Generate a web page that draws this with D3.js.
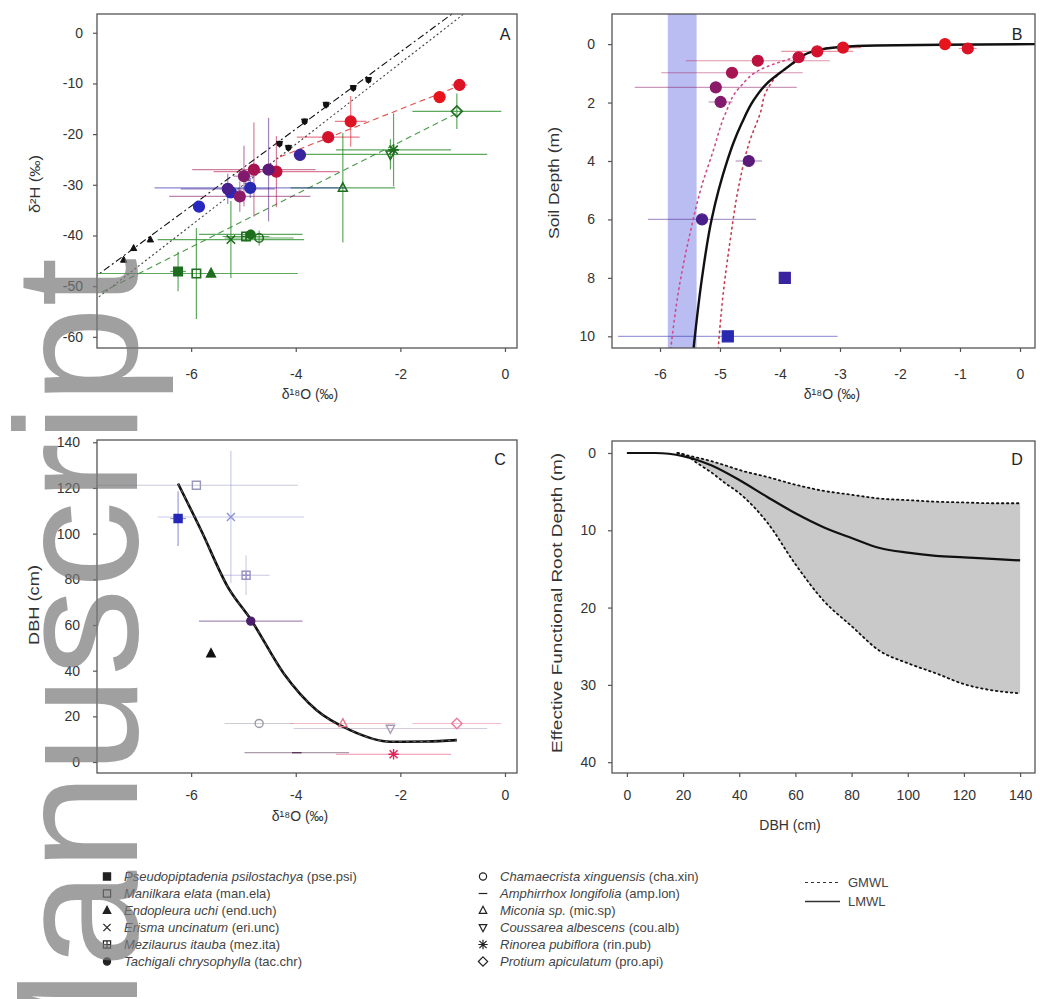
<!DOCTYPE html>
<html>
<head>
<meta charset="utf-8">
<script src="https://cdn.jsdelivr.net/npm/d3@7"></script>
<style>
  body { margin: 0; background: #fff; }
  svg { display: block; font-family: "Liberation Sans", Arial, sans-serif; }
</style>
</head>
<body>
<svg id="fig" width="1040" height="999"></svg>
<script>
// ---------------- data ----------------
// species sampled for xylem water
const speciesCodes = ["pse.psi","man.ela","end.uch","eri.unc","mez.ita","tac.chr",
                      "cha.xin","amp.lon","mic.sp","cou.alb","rin.pub","pro.api"];
const speciesNames = ["Pseudopiptadenia psilostachya","Manilkara elata","Endopleura uchi",
                      "Erisma uncinatum","Mezilaurus itauba","Tachigali chrysophylla",
                      "Chamaecrista xinguensis","Amphirrhox longifolia","Miconia sp.",
                      "Coussarea albescens","Rinorea pubiflora","Protium apiculatum"];
const xylemD18O = [-6.25,-5.90,-5.62,-5.24,-4.95,-4.86,-4.70,-3.98,-3.10,-2.19,-2.13,-0.92];
const xylemD2H  = [-47.1,-47.5,-47.5,-40.8,-40.2,-39.8,-40.5,null,-30.6,-24.0,-23.1,-15.5];
const xylemSdO  = [0.15,1.94,0,1.4,0.45,0.99,0.66,1.0,1.0,1.85,1.1,0.85];
const xylemSdH  = [3.9,9.0,0,7.6,1.0,1.0,1.5,0,10.8,3.0,7.2,3.5];
const treeDbh   = [106.6,121.2,47.5,107.3,81.8,61.7,16.9,4.1,16.9,14.7,3.4,16.9];
const treeDbhSd = [12,0,0,29,8.7,0,0,0,0,0,0,0];

// soil water profile
const soilDepth = [0.00,0.15,0.12,0.25,0.45,0.57,0.98,1.48,1.98,4.0,6.0,8.0,10.0];
const soilD18O  = [-1.25,-0.87,-2.95,-3.38,-3.69,-4.37,-4.80,-5.07,-4.99,-4.52,-5.30,-3.92,-4.87];
const soilD2H   = [-12.7,-10.3,-17.5,-20.6,null,-27.4,-27.0,-32.3,-28.3,-27.0,-30.8,-24.1,-30.6];
const soilSdO   = [0.12,0.15,0.3,0.6,0.1,1.2,1.18,1.35,0.2,0.22,0.9,0.1,1.83];
const soilSdH   = [0.8,1.0,5.0,1.2,0,7.0,9.3,3.0,6.0,10.2,3.0,0.6,2.0];

// precipitation and groundwater
const rainSeason = ["wet","wet","wet","dry","dry","dry","dry","dry","dry"];
const rainD18O  = [-7.29,-7.10,-6.78,-4.31,-4.14,-3.83,-3.42,-2.90,-2.61];
const rainD2H   = [-44.8,-42.5,-40.8,-21.9,-22.7,-17.5,-14.2,-10.9,-9.3];
const gwD18O    = [-5.85,-5.24];
const gwD2H     = [-34.3,-31.5];
const gwBandD18O = [-5.87,-5.39];

// water lines in dual-isotope space: slope, intercept and drawn range
const lineNames   = ["LMWL","GMWL","soil","xylem"];
const lineSlope   = [7.6, 8.0, 4.09, 5.2];
const lineInterc  = [11.4, 10.0, -6.9, -11.1];
const lineFrom    = [-7.9, -7.9, -4.3, -7.7];
const lineTo      = [0.3, 0.3, -0.83, -0.85];

// fitted soil profile (depth m vs d18O)
const fitDepth = [0,0.02,0.05,0.1,0.2,0.35,0.55,0.89,1.35,1.92,2.72,3.4,4.0,6.0,8.0,10.4];
const fitD18O  = [0.25,-1.3,-2.4,-3.0,-3.35,-3.58,-3.72,-3.94,-4.22,-4.44,-4.64,-4.78,-4.88,-5.14,-5.30,-5.44];
const fitLoDepth = [0.45,0.8,1.5,2.43,3.63,4.89,6.48,8.19,10.4];
const fitLoD18O  = [-3.75,-4.25,-4.68,-4.92,-5.11,-5.31,-5.50,-5.67,-5.82];
const fitHiDepth = [0.45,0.9,1.58,2.37,3.29,4.89,6.71,8.42,10.4];
const fitHiD18O  = [-3.6,-3.95,-4.22,-4.33,-4.50,-4.69,-4.83,-4.94,-5.03];

// DBH vs xylem d18O fit
const dbhFitD18O = [-6.25,-5.81,-5.30,-4.85,-4.23,-3.60,-2.96,-2.19,-1.5,-0.92];
const dbhFitDbh  = [121.9,101.5,76.7,62.1,38.8,22.7,14.0,8.9,9.0,9.6];

// effective functional root depth vs DBH
const rootDbh  = [0,10,15,20,25,30,40,50,60,70,80,90,100,110,120,130,140];
const rootMid  = [0,0,0.1,0.4,0.9,1.6,3.5,5.7,7.8,9.6,11.0,12.3,12.9,13.3,13.5,13.7,13.9];
const bandDbh  = [18,21,25,30,35,40,50,60,70,80,90,100,110,120,130,140];
const bandUp   = [0,0.26,0.6,1.05,1.6,2.2,3.1,4.1,4.9,5.4,5.9,6.1,6.3,6.4,6.5,6.5];
const bandLow  = [0,0.3,1.3,2.5,3.9,5.2,9.0,14.4,19.1,22.4,25.6,27.2,28.5,29.9,30.7,31.1];

// axis ticks
const ticksD18O_A = [-6,-4,-2,0];
const ticksD2H    = [0,-10,-20,-30,-40,-50,-60];
const ticksD18O_B = [-6,-5,-4,-3,-2,-1,0];
const ticksDepth  = [0,2,4,6,8,10];
const ticksDbhY   = [0,20,40,60,80,100,120,140];
const ticksDbhX   = [0,20,40,60,80,100,120,140];
const ticksRoot   = [0,10,20,30,40];

// ---------------- styles ----------------
const speciesShape = {"pse.psi":"square","man.ela":"squareOpen","end.uch":"triangle","eri.unc":"x",
  "mez.ita":"squarePlus","tac.chr":"circle","cha.xin":"circleOpen","amp.lon":"dash",
  "mic.sp":"triangleOpen","cou.alb":"triangleDownOpen","rin.pub":"asterisk","pro.api":"diamondOpen"};
const speciesColorC = {"pse.psi":"#2626b8","man.ela":"#9898bc","end.uch":"#111111","eri.unc":"#8f93d8",
  "mez.ita":"#9a90c8","tac.chr":"#4b1d6b","cha.xin":"#9a9aa8","amp.lon":"#5a3a5a","mic.sp":"#e07a8a",
  "cou.alb":"#a898b8","rin.pub":"#e0245a","pro.api":"#f07a98"};
const depthColor = d3.scaleLinear().domain([0,0.5,1.5,4,10])
  .range(["#e8141c","#c0103c","#8a1a6a","#5a1a7a","#2828b0"]);
const xylemGreen = "#2a8c2a";
const axisGray = "#555";
const textGray = "#333";

const svg = d3.select("#fig");
svg.append("rect").attr("width",1040).attr("height",999).attr("fill","#fff");

function symbolPath(type, r) {
  switch (type) {
    case "square": case "squareOpen":
      return `M${-r},${-r}h${2*r}v${2*r}h${-2*r}Z`;
    case "squarePlus":
      return `M${-r},${-r}h${2*r}v${2*r}h${-2*r}Z M${-r},0h${2*r} M0,${-r}v${2*r}`;
    case "triangle": case "triangleOpen":
      return `M0,${-r*1.2}L${r*1.05},${r*0.8}L${-r*1.05},${r*0.8}Z`;
    case "triangleDownOpen":
      return `M0,${r*1.2}L${r*1.05},${-r*0.8}L${-r*1.05},${-r*0.8}Z`;
    case "x":
      return `M${-r},${-r}L${r},${r}M${-r},${r}L${r},${-r}`;
    case "dash":
      return `M${-r*1.2},0H${r*1.2}`;
    case "asterisk":
      return `M${-r},${-r}L${r},${r}M${-r},${r}L${r},${-r}M${-r*1.3},0H${r*1.3}M0,${-r*1.3}V${r*1.3}`;
    case "diamondOpen":
      return `M0,${-r*1.3}L${r*1.3},0L0,${r*1.3}L${-r*1.3},0Z`;
    case "circle": case "circleOpen":
    default:
      return `M${r},0A${r},${r} 0 1,1 ${-r},0A${r},${r} 0 1,1 ${r},0Z`;
  }
}
const filledShapes = new Set(["square","triangle","circle"]);
function drawSymbol(g, type, cx, cy, r, color, sw) {
  const filled = filledShapes.has(type);
  g.append("path").attr("d", symbolPath(type, r))
    .attr("transform", `translate(${cx},${cy})`)
    .attr("fill", filled ? color : "none")
    .attr("stroke", color).attr("stroke-width", sw || 1.2);
}

function panelFrame(p, id) {
  const g = svg.append("g");
  svg.append("clipPath").attr("id", id).append("rect")
    .attr("x", p.x0).attr("y", p.y0).attr("width", p.x1 - p.x0).attr("height", p.y1 - p.y0);
  const plot = g.append("g").attr("clip-path", `url(#${id})`);
  return {g, plot};
}
function frameBox(g, p) {
  g.append("rect").attr("x", p.x0).attr("y", p.y0).attr("width", p.x1 - p.x0).attr("height", p.y1 - p.y0)
    .attr("fill", "none").attr("stroke", axisGray).attr("stroke-width", 1.3);
}
function styleAxis(sel) {
  sel.select(".domain").remove();
  sel.selectAll(".tick line").attr("stroke", axisGray).attr("stroke-width", 1.2);
  sel.selectAll(".tick text").attr("fill", textGray).attr("font-size", 14)
    .attr("font-family", "Liberation Sans, Arial, sans-serif");
}
function axes(g, p, x, y, xt, yt, xPad, yPad) {
  g.append("g").attr("transform", `translate(0,${p.y1})`)
    .call(d3.axisBottom(x).tickValues(xt).tickSize(4).tickPadding(xPad).tickFormat(d => String(d)))
    .call(styleAxis);
  g.append("g").attr("transform", `translate(${p.x0},0)`)
    .call(d3.axisLeft(y).tickValues(yt).tickSize(4).tickPadding(yPad).tickFormat(d => String(d)))
    .call(styleAxis);
}
function label(g, text, x, y, size) {
  return g.append("text").attr("x", x).attr("y", y).attr("text-anchor", "middle")
    .attr("font-size", size || 14).attr("fill", textGray).text(text);
}
function yTitle(g, text, x, y, len) {
  return g.append("text").attr("x", x).attr("y", y).attr("text-anchor", "middle")
    .attr("dominant-baseline", "middle")
    .attr("transform", `rotate(-90,${x},${y})`)
    .attr("font-size", 15).attr("fill", textGray)
    .attr("textLength", len).attr("lengthAdjust", "spacingAndGlyphs").text(text);
}
function panelLetter(g, text, x, y) {
  g.append("text").attr("x", x).attr("y", y).attr("text-anchor", "middle")
    .attr("font-size", 16).attr("fill", "#222").text(text);
}

// ---------------- panel A: dual isotope plot ----------------
{
  const p = {x0: 97, x1: 517, y0: 14, y1: 348};
  const x = d3.scaleLinear().domain([-7.8, 0.23]).range([p.x0, p.x1]);
  const y = d3.scaleLinear().domain([-62.2, 3.7]).range([p.y1, p.y0]);
  const {g, plot} = panelFrame(p, "clipA");

  const lineStyle = {
    LMWL: {stroke: "#111", dash: "7,3,2,3", w: 1.1},
    GMWL: {stroke: "#444", dash: "2,2.5", w: 1.1},
    soil: {stroke: "#e05050", dash: "6,4", w: 1.1},
    xylem: {stroke: "#4a9a4a", dash: "6,4", w: 1.1}
  };
  lineNames.forEach((n, i) => {
    const pts = [lineFrom[i], lineTo[i]].map(v => [v, lineSlope[i] * v + lineInterc[i]]);
    plot.append("path").attr("d", d3.line().x(d => x(d[0])).y(d => y(d[1]))(pts))
      .attr("fill", "none").attr("stroke", lineStyle[n].stroke)
      .attr("stroke-dasharray", lineStyle[n].dash).attr("stroke-width", lineStyle[n].w);
  });

  // xylem error bars
  speciesCodes.forEach((c, i) => {
    if (xylemD2H[i] == null) return;
    const cx = x(xylemD18O[i]), cy = y(xylemD2H[i]);
    if (xylemSdO[i] > 0) plot.append("line").attr("x1", x(xylemD18O[i] - xylemSdO[i])).attr("x2", x(xylemD18O[i] + xylemSdO[i]))
      .attr("y1", cy).attr("y2", cy).attr("stroke", xylemGreen).attr("stroke-opacity", 0.75).attr("stroke-width", 1.2);
    if (xylemSdH[i] > 0) plot.append("line").attr("x1", cx).attr("x2", cx)
      .attr("y1", y(xylemD2H[i] - xylemSdH[i])).attr("y2", y(xylemD2H[i] + xylemSdH[i]))
      .attr("stroke", xylemGreen).attr("stroke-opacity", 0.75).attr("stroke-width", 1.2);
  });

  // soil water error bars
  soilDepth.forEach((d, i) => {
    if (soilD2H[i] == null) return;
    const col = depthColor(d);
    const cx = x(soilD18O[i]), cy = y(soilD2H[i]);
    plot.append("line").attr("x1", x(soilD18O[i] - soilSdO[i])).attr("x2", x(soilD18O[i] + soilSdO[i]))
      .attr("y1", cy).attr("y2", cy).attr("stroke", col).attr("stroke-opacity", 0.55).attr("stroke-width", 1.2);
    plot.append("line").attr("x1", cx).attr("x2", cx)
      .attr("y1", y(soilD2H[i] - soilSdH[i])).attr("y2", y(soilD2H[i] + soilSdH[i]))
      .attr("stroke", col).attr("stroke-opacity", 0.55).attr("stroke-width", 1.2);
  });

  // precipitation
  rainD18O.forEach((v, i) => {
    drawSymbol(plot, rainSeason[i] === "wet" ? "triangle" : "triangleDownOpen", x(v), y(rainD2H[i]), 3, "#111", 1);
    if (rainSeason[i] !== "wet") drawSymbol(plot, "circle", x(v), y(rainD2H[i]), 2.4, "#111");
  });

  // groundwater
  gwD18O.forEach((v, i) => drawSymbol(plot, "circle", x(v), y(gwD2H[i]), 5.5, "#2828c0"));

  // soil water points
  soilDepth.forEach((d, i) => {
    if (soilD2H[i] == null) return;
    drawSymbol(plot, "circle", x(soilD18O[i]), y(soilD2H[i]), 5.5, depthColor(d));
  });

  // xylem points
  speciesCodes.forEach((c, i) => {
    if (xylemD2H[i] == null) return;
    drawSymbol(plot, speciesShape[c], x(xylemD18O[i]), y(xylemD2H[i]), 4.2, "#1f6e1f", 1.6);
  });

  frameBox(g, p);
  axes(g, p, x, y, ticksD18O_A, ticksD2H, 17, 10);
  yTitle(g, "δ²H (‰)", 36, 184, 58);
  label(g, "δ¹⁸O (‰)", 310, 399);
  panelLetter(g, "A", 505, 40);
}

// ---------------- panel B: soil water profile ----------------
{
  const p = {x0: 612, x1: 1035, y0: 14, y1: 348};
  const x = d3.scaleLinear().domain([-6.8, 0.25]).range([p.x0, p.x1]);
  const y = d3.scaleLinear().domain([-1.03, 10.4]).range([p.y0, p.y1]);
  const {g, plot} = panelFrame(p, "clipB");

  plot.append("rect").attr("x", x(gwBandD18O[0])).attr("width", x(gwBandD18O[1]) - x(gwBandD18O[0]))
    .attr("y", p.y0).attr("height", p.y1 - p.y0).attr("fill", "#aeb2f0").attr("opacity", 0.85);

  // error bars
  soilDepth.forEach((d, i) => {
    const cy = y(d);
    plot.append("line").attr("x1", x(soilD18O[i] - soilSdO[i])).attr("x2", x(soilD18O[i] + soilSdO[i]))
      .attr("y1", cy).attr("y2", cy).attr("stroke", depthColor(d)).attr("stroke-opacity", 0.45).attr("stroke-width", 1.2);
  });

  const lineDepth = (ds, vs) => d3.line().curve(d3.curveMonotoneY)
    .x((d, i) => x(vs[i])).y(d => y(d))(ds);
  plot.append("path").attr("d", lineDepth(fitLoDepth, fitLoD18O)).attr("fill", "none")
    .attr("stroke", "#d04a8a").attr("stroke-width", 1.6).attr("stroke-dasharray", "1.5,4").attr("stroke-linecap", "round");
  plot.append("path").attr("d", lineDepth(fitHiDepth, fitHiD18O)).attr("fill", "none")
    .attr("stroke", "#c83a50").attr("stroke-width", 1.6).attr("stroke-dasharray", "1.5,4").attr("stroke-linecap", "round");
  plot.append("path").attr("d", lineDepth(fitDepth, fitD18O)).attr("fill", "none")
    .attr("stroke", "#111").attr("stroke-width", 2.4);

  soilDepth.forEach((d, i) => {
    drawSymbol(plot, d >= 8 ? "square" : "circle", x(soilD18O[i]), y(d), 5.5, depthColor(d));
  });

  frameBox(g, p);
  axes(g, p, x, y, ticksD18O_B, ticksDepth, 17, 13);
  yTitle(g, "Soil Depth (m)", 555, 183, 112);
  label(g, "δ¹⁸O (‰)", 832, 399);
  panelLetter(g, "B", 1017, 40);
}

// ---------------- panel C: DBH vs xylem d18O ----------------
{
  const p = {x0: 97, x1: 517, y0: 440, y1: 773};
  const x = d3.scaleLinear().domain([-7.8, 0.23]).range([p.x0, p.x1]);
  const y = d3.scaleLinear().domain([-4.8, 141]).range([p.y1, p.y0]);
  const {g, plot} = panelFrame(p, "clipC");

  speciesCodes.forEach((c, i) => {
    const col = speciesColorC[c];
    const cx = x(xylemD18O[i]), cy = y(treeDbh[i]);
    if (xylemSdO[i] > 0) plot.append("line").attr("x1", x(xylemD18O[i] - xylemSdO[i])).attr("x2", x(xylemD18O[i] + xylemSdO[i]))
      .attr("y1", cy).attr("y2", cy).attr("stroke", col).attr("stroke-opacity", 0.5).attr("stroke-width", 1.1);
    if (treeDbhSd[i] > 0) plot.append("line").attr("x1", cx).attr("x2", cx)
      .attr("y1", y(treeDbh[i] - treeDbhSd[i])).attr("y2", y(treeDbh[i] + treeDbhSd[i]))
      .attr("stroke", col).attr("stroke-opacity", 0.5).attr("stroke-width", 1.1);
  });

  plot.append("path").attr("d", d3.line().curve(d3.curveMonotoneX)
      .x(d => x(d)).y((d, i) => y(dbhFitDbh[i]))(dbhFitD18O))
    .attr("fill", "none").attr("stroke", "#111").attr("stroke-width", 2.6);
  plot.append("path").attr("d", d3.line().curve(d3.curveMonotoneX)
      .x(d => x(d)).y((d, i) => y(dbhFitDbh[i]))(dbhFitD18O))
    .attr("fill", "none").attr("stroke", "#777").attr("stroke-width", 0.8).attr("stroke-dasharray", "3,4");

  speciesCodes.forEach((c, i) => {
    drawSymbol(plot, speciesShape[c], x(xylemD18O[i]), y(treeDbh[i]), 4, speciesColorC[c], 1.4);
  });

  frameBox(g, p);
  axes(g, p, x, y, ticksD18O_A, ticksDbhY, 13, 13);
  yTitle(g, "DBH (cm)", 35, 605, 80);
  label(g, "δ¹⁸O (‰)", 300, 821);
  panelLetter(g, "C", 500, 465);
}

// ---------------- panel D: effective functional root depth ----------------
{
  const p = {x0: 612, x1: 1035, y0: 441, y1: 773};
  const x = d3.scaleLinear().domain([-5.3, 145.3]).range([p.x0, p.x1]);
  const y = d3.scaleLinear().domain([-1.55, 41.4]).range([p.y0, p.y1]);
  const {g, plot} = panelFrame(p, "clipD");

  plot.append("path").attr("d", d3.area().curve(d3.curveMonotoneX)
      .x(d => x(d)).y0((d, i) => y(bandUp[i])).y1((d, i) => y(bandLow[i]))(bandDbh))
    .attr("fill", "#c9c9c9");
  [bandUp, bandLow].forEach(arr => {
    plot.append("path").attr("d", d3.line().curve(d3.curveMonotoneX)
        .x(d => x(d)).y((d, i) => y(arr[i]))(bandDbh))
      .attr("fill", "none").attr("stroke", "#111").attr("stroke-width", 1.8)
      .attr("stroke-dasharray", "1.5,3.5").attr("stroke-linecap", "round");
  });
  plot.append("path").attr("d", d3.line().curve(d3.curveMonotoneX)
      .x(d => x(d)).y((d, i) => y(rootMid[i]))(rootDbh))
    .attr("fill", "none").attr("stroke", "#111").attr("stroke-width", 2.2);

  frameBox(g, p);
  axes(g, p, x, y, ticksDbhX, ticksRoot, 13, 12);
  yTitle(g, "Effective Functional Root Depth (m)", 558, 603, 300);
  label(g, "DBH (cm)", 790, 830);
  panelLetter(g, "D", 1017, 465);
}

// ---------------- legend ----------------
{
  const g = svg.append("g");
  const rowY = i => 881 + 17 * (i % 6);
  speciesCodes.forEach((c, i) => {
    const col = i < 6 ? 0 : 1;
    const sx = col === 0 ? 107 : 483, tx = col === 0 ? 124 : 500;
    const yy = rowY(i);
    drawSymbol(g, speciesShape[c], sx, yy - 4.5, 3.6, "#222", 1.2);
    const t = g.append("text").attr("x", tx).attr("y", yy).attr("font-size", 13).attr("fill", "#444");
    t.append("tspan").attr("font-style", "italic").text(speciesNames[i]);
    t.append("tspan").text(` (${c})`);
  });
  const legLines = [["GMWL", "3,3"], ["LMWL", null]];
  legLines.forEach((l, i) => {
    const yy = 887 + 19 * i;
    const ln = g.append("line").attr("x1", 805).attr("x2", 840).attr("y1", yy - 4.5).attr("y2", yy - 4.5)
      .attr("stroke", "#333").attr("stroke-width", i ? 1.6 : 1.1);
    if (l[1]) ln.attr("stroke-dasharray", l[1]);
    g.append("text").attr("x", 848).attr("y", yy).attr("font-size", 13).attr("fill", "#444").text(l[0]);
  });
}

// ---------------- repository watermark ----------------
svg.append("text")
  .attr("transform", "translate(137,258) rotate(-90)")
  .attr("text-anchor", "end")
  .attr("font-size", 175)
  .attr("font-family", "Liberation Sans, Arial, sans-serif")
  .attr("fill", "#777").attr("fill-opacity", 0.7)
  .text("Manuscript");
</script>
</body>
</html>
